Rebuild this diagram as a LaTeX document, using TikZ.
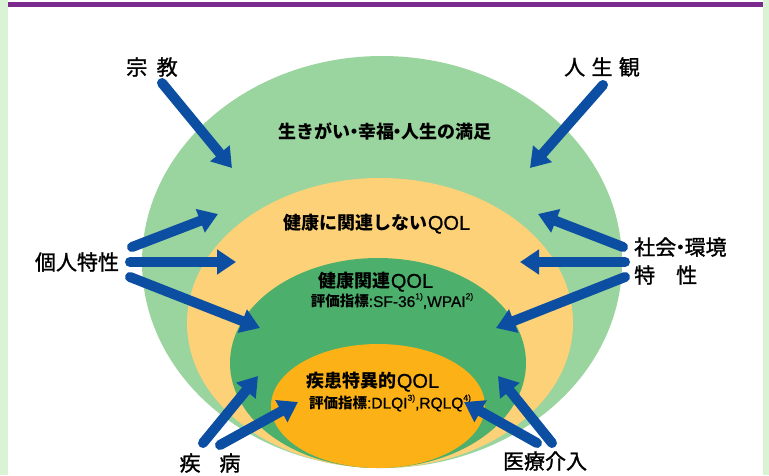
\documentclass[tikz,border=0pt]{standalone}
\usepackage{fontspec}
\setmainfont{Noto Sans CJK JP}
\newfontfamily\jplab{Noto Sans CJK JP}[RawFeature={embolden=1.2}]
\newfontfamily\latn{Liberation Sans}[RawFeature={embolden=0.8}]
\usetikzlibrary{arrows.meta}
\definecolor{sidegreen}{HTML}{DAF3D4}
\definecolor{topline}{HTML}{7B2A8E}
\definecolor{ellA}{HTML}{9AD49E}
\definecolor{ellB}{HTML}{FDD178}
\definecolor{ellC}{HTML}{4DAF6C}
\definecolor{ellD}{HTML}{FCB116}
\definecolor{arrowblue}{HTML}{0B4EA2}
\tikzset{
  arr/.style={draw=arrowblue, line width=10pt, line cap=round, -{Triangle[width=24pt,length=19pt]}},
  lab/.style={inner sep=0pt, text=black, font=\jplab\fontsize{21}{28}\selectfont},
  intxt/.style={inner sep=0pt, text=black, font=\bfseries\fontsize{18}{20}\selectfont},
  subtxt/.style={inner sep=0pt, text=black, font=\bfseries\fontsize{14.5}{16}\selectfont}
}
\newcommand{\supx}[1]{\raisebox{0.5em}{\fontsize{8.5}{9}\selectfont #1}}
\newcommand{\ndot}{\hspace{-0.3em}・\hspace{-0.3em}}
\newcommand{\qolbig}[1]{{\normalfont\latn\fontsize{20}{20}\selectfont #1}}
\newcommand{\latsmall}[1]{{\normalfont\latn\fontsize{15.5}{16}\selectfont #1}}
\begin{document}
\begin{tikzpicture}[x=1pt,y=-1pt]
\useasboundingbox (0,0) rectangle (769,475);
\fill[sidegreen] (0,0) rectangle (769,475);
\fill[white] (8,0) rectangle (763,475);
\fill[topline] (8,2) rectangle (763,7);
% ellipses
\fill[ellA] (382,262) ellipse [x radius=240, y radius=206];
\fill[ellB] (380,323) ellipse [x radius=193, y radius=145];
\fill[ellC] (378,363) ellipse [x radius=148, y radius=105];
\fill[ellD] (378,406) ellipse [x radius=107, y radius=62];
% inner texts
\node[intxt] (t1) at (385,131) {生きがい\ndot 幸福\ndot 人生の満足};
\node[intxt] (t2) at (377,224) {健康に関連しない\qolbig{QOL}};
\node[intxt] (t3) at (376,282) {健康関連\qolbig{QOL}};
\node[subtxt] (t3b) at (392,301) {評価指標\latsmall{:SF-36\supx{1)},WPAI\supx{2)}}};
\node[intxt] (t4) at (373,382) {疾患特異的\qolbig{QOL}};
\node[subtxt] (t4b) at (390,403) {評価指標\latsmall{:DLQI\supx{3)},RQLQ\supx{4)}}};
% outer labels
\node[lab] (shukyo) at (152,67) {宗\hspace{0.45em}教};
\node[lab] (jinsei) at (602,67) {人\hspace{0.3em}生\hspace{0.3em}観};
\node[lab] (kojin) at (77,262) {個人特性};
\node[lab, align=left, anchor=west] (shakai) at (634,261) {社会\ndot 環境\\特\hspace{1em}性};
\node[lab] (shippei) at (210,463) {疾\hspace{0.9em}病};
\node[lab] (iryo) at (545,461) {医療介入};
% arrow coordinates
\coordinate (a1s) at (162,83);  \coordinate (a1e) at (232,168);
\coordinate (a2s) at (603,85);  \coordinate (a2e) at (530,168);
\coordinate (a3s) at (132,247); \coordinate (a3e) at (218,214);
\coordinate (a4s) at (130,262); \coordinate (a4e) at (236,262);
\coordinate (a5s) at (130,277); \coordinate (a5e) at (260,328);
\coordinate (a6s) at (623,247); \coordinate (a6e) at (538,214);
\coordinate (a7s) at (625,262); \coordinate (a7e) at (520,262);
\coordinate (a8s) at (625,277); \coordinate (a8e) at (496,328);
\coordinate (a9s) at (203,443); \coordinate (a9e) at (258,376);
\coordinate (a10s) at (220,445); \coordinate (a10e) at (298,402);
\coordinate (a11s) at (537,443); \coordinate (a11e) at (464,402);
\coordinate (a12s) at (552,443); \coordinate (a12e) at (498,376);
\foreach \i in {1,...,12} {\draw[arr] (a\i s) -- (a\i e);}
\end{tikzpicture}
\end{document}
